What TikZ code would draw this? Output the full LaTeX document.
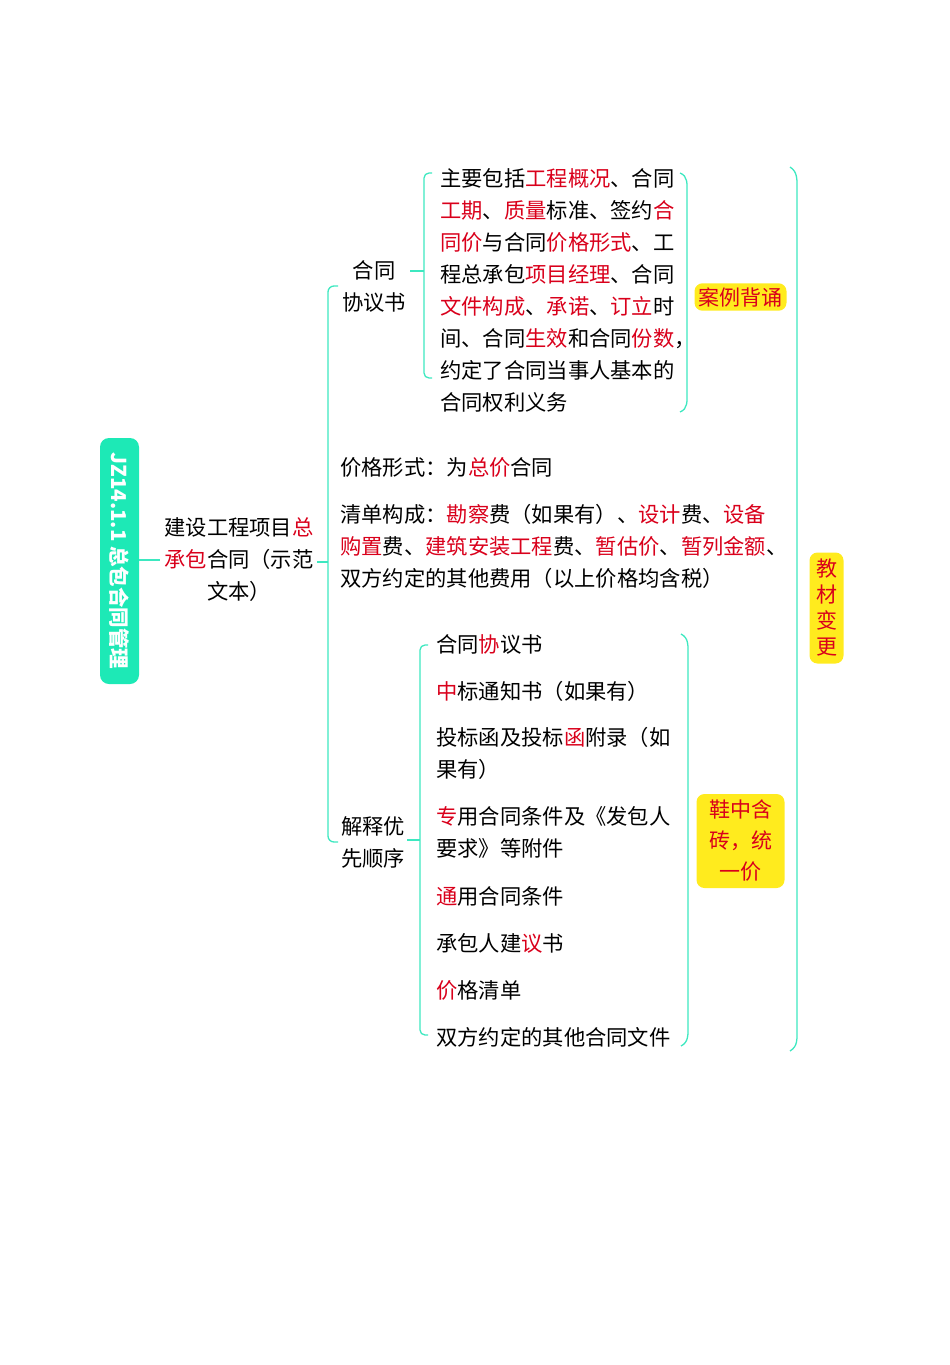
\documentclass[tikz,border=0pt]{standalone}
\usepackage{fontspec}
\setmainfont{Noto Sans CJK SC}
\usepackage{xcolor}
\definecolor{teal1}{HTML}{3DE8C0}
\definecolor{green1}{HTML}{1DE9B6}
\definecolor{yel}{HTML}{FFEB1E}
\definecolor{red1}{HTML}{D9001B}
\newcommand{\hl}[1]{\textcolor{red1}{#1}}
\begin{document}
\begin{tikzpicture}[x=1pt,y=-1pt,
  line/.style={teal1,line width=1.3pt,rounded corners=6pt},
  txt/.style={inner sep=0pt,font=\fontsize{21.3}{32}\selectfont,align=left},
  ybox/.style={fill=yel,rounded corners=8pt,text=red1,font=\fontsize{21}{31}\selectfont,align=center,inner sep=4pt}]
\useasboundingbox (0,0) rectangle (950,1365);
% root
\node[fill=green1,rounded corners=9pt,minimum width=39pt,minimum height=246pt,inner sep=0pt] (root) at (119.5,561) {};
\node[rotate=-90,text=white,font=\fontsize{20.5}{20}\selectfont\bfseries] (roott) at (119.5,561) {JZ14.1.1 总包合同管理};
\node[txt,align=center,text width=160pt] (main) at (239,560) {建设工程项目\hl{总}\\\hl{承包}合同（示范\\文本）};
\coordinate (m1) at (328,562);
\draw[line] (root.east |- 0,560) -- (160,560);
\draw[line] (317,562) -- (m1);
% branch 1
\node[txt,align=center] (b1) at (374,286) {合同\\协议书};
\node[txt,align=center] (b4) at (373,842) {解释优\\先顺序};
\draw[line] (338,286) -- (328,286) -- (328,842) -- (338,842);
\node[txt,anchor=west] (p1) at (340,467) {价格形式：为\hl{总价}合同};
\node[txt,anchor=north west,text width=460pt] (p2) at (340,504) {清单构成：\hl{勘察}费（如果有）、\hl{设计}费、\hl{设备}\\\hl{购置}费、\hl{建筑安装工程}费、\hl{暂估价}、\hl{暂列金额}、\\双方约定的其他费用（以上价格均含税）};
% agreement content
\node[txt,anchor=north west,text width=250pt] (c1) at (440,168) {主要包括\hl{工程概况}、合同\\\hl{工期}、\hl{质量}标准、签约\hl{合}\\\hl{同价}与合同\hl{价格形式}、工\\程总承包\hl{项目经理}、合同\\\hl{文件构成}、\hl{承诺}、\hl{订立}时\\间、合同\hl{生效}和合同\hl{份数}，\\约定了合同当事人基本的\\合同权利义务};
\draw[line] (410,271) -- (424,271);
\draw[line,rounded corners=5pt] (432,173) -- (424,173) -- (424,378) -- (432,378);
\draw[line,rounded corners=0pt] (680,173) .. controls (688,176) and (687,184) .. (687,192) -- (687,393) .. controls (687,401) and (688,409) .. (680,412);
\node[ybox] (y1) at (740.5,297) {案例背诵};
% order items
\draw[line] (407,840) -- (420,840);
\draw[line,rounded corners=5pt] (428,645) -- (420,645) -- (420,1035) -- (428,1035);
\node[txt,anchor=west] (o1) at (436,644) {合同\hl{协}议书};
\node[txt,anchor=west] (o2) at (436,691) {\hl{中}标通知书（如果有）};
\node[txt,anchor=north west,text width=260pt] (o3) at (436,727) {投标函及投标\hl{函}附录（如\\果有）};
\node[txt,anchor=north west,text width=260pt] (o4) at (436,806) {\hl{专}用合同条件及《发包人\\要求》等附件};
\node[txt,anchor=west] (o5) at (436,896) {\hl{通}用合同条件};
\node[txt,anchor=west] (o6) at (436,943) {承包人建\hl{议}书};
\node[txt,anchor=west] (o7) at (436,990) {\hl{价}格清单};
\node[txt,anchor=west] (o8) at (436,1037) {双方约定的其他合同文件};
\draw[line,rounded corners=0pt] (681,634) .. controls (689,638) and (688,646) .. (688,656) -- (688,1024) .. controls (688,1034) and (689,1042) .. (681,1046);
\node[ybox,text width=80pt,minimum height=94pt] (y2) at (740.5,841) {鞋中含\\砖，统\\一价};
% outer bracket
\draw[line,rounded corners=0pt] (790,167) .. controls (798,172) and (797,180) .. (797,192) -- (797,1026) .. controls (797,1040) and (798,1046) .. (790,1051);
\node[ybox,text width=28pt,inner sep=3pt,minimum height=111pt,font=\fontsize{21}{26}\selectfont] (y3) at (826.5,608) {教\\材\\变\\更};
\end{tikzpicture}
\end{document}
